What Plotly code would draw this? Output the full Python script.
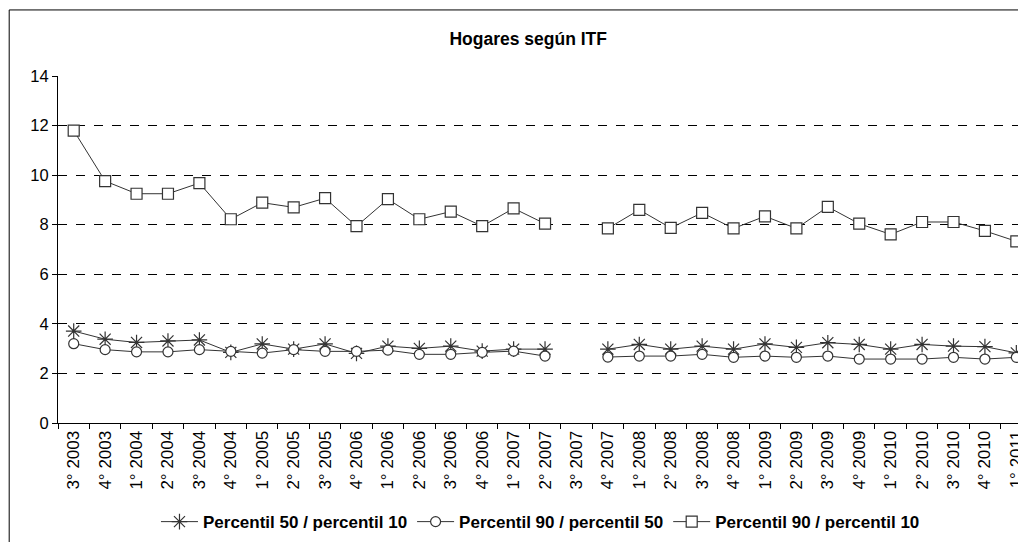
import plotly.graph_objects as go

categories = ["3° 2003", "4° 2003", "1° 2004", "2° 2004", "3° 2004", "4° 2004",
              "1° 2005", "2° 2005", "3° 2005", "4° 2006", "1° 2006", "2° 2006",
              "3° 2006", "4° 2006", "1° 2007", "2° 2007", "3° 2007", "4° 2007",
              "1° 2008", "2° 2008", "3° 2008", "4° 2008", "1° 2009", "2° 2009",
              "3° 2009", "4° 2009", "1° 2010", "2° 2010", "3° 2010", "4° 2010",
              "1° 2011"]

p50_p10 = [3.71, 3.38, 3.25, 3.31, 3.35, 2.85, 3.19, 2.98, 3.19, 2.81,
           3.10, 3.01, 3.10, 2.90, 2.98, 2.98, None, 2.98, 3.17, 2.98,
           3.10, 2.98, 3.19, 3.05, 3.24, 3.17, 2.98, 3.17, 3.10, 3.08, 2.83]

p90_p50 = [3.20, 2.96, 2.87, 2.87, 2.96, 2.89, 2.82, 2.96, 2.89, 2.89,
           2.94, 2.77, 2.77, 2.85, 2.90, 2.70, None, 2.66, 2.70, 2.70,
           2.77, 2.65, 2.70, 2.65, 2.70, 2.58, 2.58, 2.58, 2.65, 2.58, 2.65]

p90_p10 = [11.80, 9.76, 9.25, 9.25, 9.68, 8.22, 8.89, 8.70, 9.07, 7.94,
           9.03, 8.22, 8.53, 7.94, 8.66, 8.04, None, 7.85, 8.60, 7.87,
           8.48, 7.85, 8.34, 7.85, 8.72, 8.04, 7.61, 8.11, 8.11, 7.75, 7.33]

series_names = ["Percentil 50 / percentil 10",
                "Percentil 90 / percentil 50",
                "Percentil 90 / percentil 10"]

x = list(range(len(categories)))
LINE = "#333333"
FONT = "Liberation Sans, Arial, sans-serif"

fig = go.Figure()
fig.add_trace(go.Scatter(
    x=x, y=p50_p10, name=series_names[0], mode="lines+markers",
    connectgaps=False, cliponaxis=False, line=dict(color=LINE, width=1),
    marker=dict(symbol="asterisk-open", size=13, color=LINE,
                line=dict(color=LINE, width=1.2))))
fig.add_trace(go.Scatter(
    x=x, y=p90_p50, name=series_names[1], mode="lines+markers",
    connectgaps=False, cliponaxis=False, line=dict(color=LINE, width=1),
    marker=dict(symbol="circle", size=10, color="white",
                line=dict(color=LINE, width=1.2))))
fig.add_trace(go.Scatter(
    x=x, y=p90_p10, name=series_names[2], mode="lines+markers",
    connectgaps=False, cliponaxis=False, line=dict(color=LINE, width=1),
    marker=dict(symbol="square", size=11, color="white",
                line=dict(color=LINE, width=1.2))))

# page body has an 8px margin: figure is 1018x534 placed at (8,8)
fig.update_layout(
    width=1018, height=534,
    margin=dict(l=50, r=0, t=68, b=119),
    paper_bgcolor="white", plot_bgcolor="white",
    font=dict(family=FONT, size=16, color="black"),
    title=dict(text="<b>Hogares según ITF</b>", x=0.511, y=1 - 31 / 534,
               xref="container", yref="container",
               xanchor="center", yanchor="middle",
               font=dict(family=FONT, size=17.5, color="black")),
    showlegend=True,
    legend=dict(orientation="h", x=0.5005, y=-0.2855, xanchor="center",
                yanchor="middle", itemwidth=37,
                font=dict(family=FONT, size=17, color="black", weight="bold"),
                bgcolor="rgba(0,0,0,0)"),
)

fig.update_xaxes(
    range=[-0.5, 30.18], tickmode="array", tickvals=x, ticktext=categories,
    tickangle=-90, ticks="", showgrid=False, zeroline=False,
    ticklabeloverflow="allow",
    showline=True, linecolor="black", linewidth=1,
    tickfont=dict(family=FONT, size=17, color="black"),
    minor=dict(tickmode="linear", tick0=0.5, dtick=1, ticks="outside",
               ticklen=5, tickcolor="black", showgrid=False),
)
fig.update_yaxes(
    range=[0, 14], tickmode="linear", tick0=0, dtick=2,
    ticks="outside", ticklen=5, tickcolor="black",
    showline=True, linecolor="black", linewidth=1,
    showgrid=True, gridcolor="black", griddash="dash", gridwidth=1,
    zeroline=False, tickfont=dict(family=FONT, size=16.5, color="black"),
)

# outer chart frame
fig.add_shape(type="rect", xref="paper", yref="paper",
              x0=(9 - 58) / 968, y0=(422.7 - 10) / 346.7, x1=1.2, y1=-0.6,
              line=dict(color="black", width=1), fillcolor="rgba(0,0,0,0)",
              layer="above")

fig.write_html("out.html")
